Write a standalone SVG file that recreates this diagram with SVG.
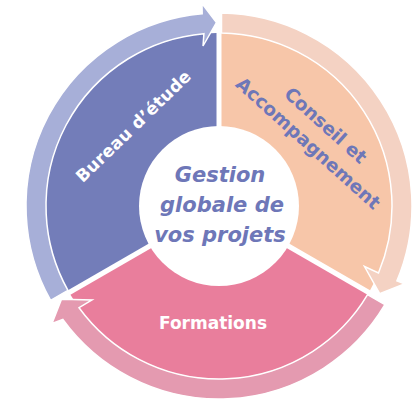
<svg xmlns="http://www.w3.org/2000/svg" width="415" height="400" viewBox="0 0 415 400">
  <style>
    .lbl { font-family: "DejaVu Sans", "Liberation Sans", sans-serif; font-weight: bold; }
    .white { fill: #FFFFFF; font-size: 17px; }
    .blue { fill: #6E77B8; }
    .arrow { stroke: #FFFFFF; stroke-width: 1.5; stroke-linejoin: miter; }
  </style>
  <rect width="415" height="400" fill="#FFFFFF"/>
  <g id="bureau-d-etude">
    <path d="M 216.5 204.56 L 67.94 290.33 A 173 173 0 0 1 216.5 33.02 Z" fill="#737DB9"/>
  </g>
  <g id="conseil-accompagnement">
    <path d="M 221.5 204.56 L 221.5 33.02 A 173 173 0 0 1 370.06 290.33 Z" fill="#F7C6A9"/>
  </g>
  <g id="formations">
    <path d="M 219 208.89 L 367.56 294.66 A 173 173 0 0 1 70.44 294.66 Z" fill="#E97E9C"/>
  </g>
  <g id="connectors">
    <path class="arrow" fill="#A7AFD8" d="M 50.62 300.33 A 193 193 0 0 1 202.18 13.73 L 202 3.5 L 216.44 22.5 L 203 46 L 203.92 33.66 A 173 173 0 0 0 67.94 290.33 Z"/>
    <path class="arrow" fill="#F4D2C3" d="M 221.5 13.02 A 193 193 0 0 1 396.92 280.79 L 404.29 283.89 L 379.67 293.6 L 364.5 266.5 L 378.48 273.04 A 173 173 0 0 0 221.5 33.02 Z"/>
    <path class="arrow" fill="#E49AB0" d="M 384.88 304.66 A 193 193 0 0 1 62.86 319.44 L 52 323.5 L 61.48 299.15 L 92 300 L 79.04 307.69 A 173 173 0 0 0 367.56 294.66 Z"/>
  </g>
  <g id="center">
    <circle cx="219" cy="206" r="80" fill="#FFFFFF"/>
    <g class="lbl blue" font-style="italic" font-size="21" text-anchor="middle">
      <text x="220" y="182">Gestion</text>
      <text x="222" y="212">globale de</text>
      <text x="220" y="242">vos projets</text>
    </g>
  </g>
  <g id="labels">
    <text class="lbl white" text-anchor="middle" textLength="152" transform="translate(137.5 130.5) rotate(-44)">Bureau d’étude</text>
    <g class="lbl blue" font-size="18.5" text-anchor="middle" transform="translate(304 148) rotate(42)">
      <text x="1" y="-25">Conseil et</text>
      <text x="0" y="0">Accompagnement</text>
    </g>
    <text class="lbl white" x="213" y="329" text-anchor="middle">Formations</text>
  </g>
</svg>
